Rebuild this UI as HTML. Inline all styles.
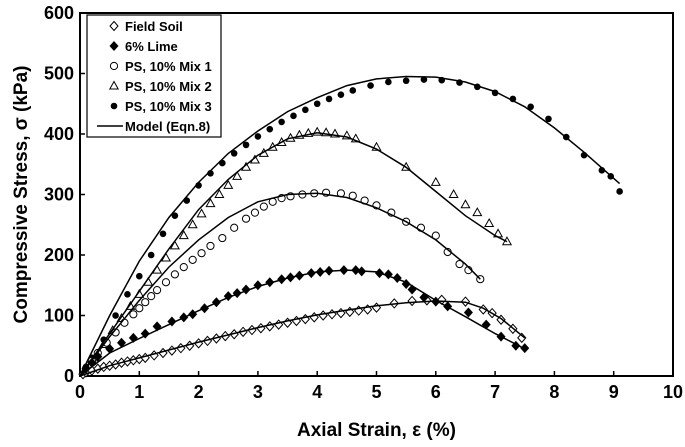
<!DOCTYPE html>
<html><head><meta charset="utf-8"><style>
html,body{margin:0;padding:0;background:#fff;}
svg{display:block;font-family:"Liberation Sans",sans-serif;}
</style></head><body>
<svg id="chart" width="685" height="447" viewBox="0 0 685 447">
<g id="plot"></g>
</svg>
<script>
const xTicks=[0,1,2,3,4,5,6,7,8,9,10];
const yTicks=[0,100,200,300,400,500,600];
// Field Soil
const fsX=[0.05,0.1,0.2,0.3,0.4,0.5,0.6,0.7,0.8,0.9,1.0,1.1,1.25,1.4,1.55,1.7,1.85,2.0,2.15,2.3,2.45,2.6,2.75,2.9,3.05,3.2,3.35,3.5,3.65,3.8,3.95,4.1,4.25,4.4,4.55,4.7,4.85,5.0,5.3,5.6,5.85,6.1,6.5,6.8,6.95,7.1,7.3,7.45];
const fsY=[3,6,9,12,15,17,19,22,24,26,28,30,34,38,42,46,50,54,58,62,66,69,73,76,79,82,85,88,91,94,97,100,102,104,106,108,110,113,120,124,125,126,123,110,104,93,78,63];
const fsMX=[0,0.5,1,1.5,2,2.5,3,3.5,4,4.5,5,5.5,6,6.5,6.8,7.1,7.5];
const fsMY=[0,17,30,43,56,68,80,91,101,109,116,121,124,122,112,95,63];
// 6% Lime
const liX=[0.1,0.2,0.3,0.5,0.7,0.9,1.1,1.3,1.55,1.75,1.9,2.1,2.3,2.5,2.65,2.8,3.0,3.2,3.4,3.55,3.7,3.9,4.05,4.2,4.45,4.65,4.75,5.05,5.2,5.35,5.5,5.6,5.8,6.0,6.2,6.55,6.85,7.1,7.35,7.5];
const liY=[12,22,32,45,55,63,70,82,90,97,102,112,122,132,137,143,150,155,160,163,166,170,172,174,175,175,173,170,168,162,152,143,130,123,115,105,85,65,50,46];
const liMX=[0,0.5,1,1.5,2,2.5,3,3.5,4,4.5,5,5.5,6,6.5,7,7.5];
const liMY=[0,38,62,85,108,130,148,162,172,175,172,155,125,98,70,45];
// Mix 1
const m1X=[0.1,0.2,0.3,0.45,0.6,0.75,0.9,1.0,1.1,1.2,1.3,1.45,1.6,1.75,1.9,2.05,2.2,2.4,2.6,2.8,2.95,3.1,3.25,3.4,3.55,3.75,3.95,4.15,4.4,4.6,4.8,5.0,5.25,5.5,5.75,6.0,6.2,6.4,6.55,6.75];
const m1Y=[12,25,38,55,72,88,102,112,122,132,142,155,168,180,192,203,215,228,245,260,270,280,288,294,297,300,302,303,302,298,290,282,270,255,245,232,205,185,175,160];
const m1MX=[0,0.5,1,1.5,2,2.5,3,3.5,4,4.5,5,5.5,6,6.5,6.75];
const m1MY=[0,65,125,180,225,262,288,300,302,295,278,255,225,185,160];
// Mix 2
const m2X=[0.1,0.25,0.4,0.55,0.7,0.85,1.0,1.15,1.3,1.45,1.6,1.75,1.9,2.05,2.2,2.35,2.5,2.65,2.8,2.95,3.1,3.25,3.4,3.55,3.7,3.85,4.0,4.15,4.3,4.5,4.65,5.0,5.5,6.0,6.3,6.5,6.7,6.9,7.05,7.2];
const m2Y=[10,30,52,75,95,115,135,155,175,195,215,232,250,268,285,300,315,330,345,357,368,378,386,393,398,401,403,402,400,397,392,378,345,320,300,283,270,252,235,222];
const m2MX=[0,0.5,1,1.5,2,2.5,3,3.5,4,4.5,5,5.5,6,6.5,7,7.2];
const m2MY=[0,70,140,210,275,325,365,392,402,395,375,345,305,265,232,222];
// Mix 3
const m3X=[0.1,0.2,0.4,0.6,0.8,1.0,1.2,1.4,1.6,1.8,2.0,2.2,2.4,2.6,2.8,3.0,3.2,3.4,3.6,3.8,4.0,4.2,4.4,4.6,4.9,5.2,5.5,5.8,6.1,6.4,6.7,7.0,7.3,7.6,7.9,8.2,8.5,8.8,8.95,9.1];
const m3Y=[15,30,60,100,135,165,200,235,265,290,315,335,352,368,382,396,408,420,430,440,450,458,465,472,480,486,488,490,489,485,478,468,458,445,425,395,365,340,330,305];
const m3MX=[0,0.5,1,1.5,2,2.5,3,3.5,4,4.5,5,5.5,6,6.5,7,7.5,8,8.5,9.1];
const m3MY=[0,100,190,262,320,368,405,437,460,480,491,495,494,486,470,445,410,370,318];

const L=80,R=673,T=13,B=376;
const sx=v=>L+(R-L)*v/10, sy=v=>B-(B-T)*v/600;
const NS='http://www.w3.org/2000/svg';
const g=document.getElementById('plot');
function mk(tag,attrs,parent){const e=document.createElementNS(NS,tag);for(const k in attrs)e.setAttribute(k,attrs[k]);(parent||g).appendChild(e);return e;}

// frame
const fr=mk('rect',{x:L,y:T,width:R-L,height:B-T,fill:'none',stroke:'#000','stroke-width':2});


xTicks.forEach(t=>{
  const ln=mk('line',{x1:sx(t),x2:sx(t),y1:B,y2:B-5,stroke:'#000','stroke-width':1.5});
  
  
  const tx=mk('text',{x:sx(t),y:B+22,'text-anchor':'middle','font-size':18,'font-weight':'bold'});
  tx.textContent=t;
  
  
});
yTicks.forEach(t=>{
  const ln=mk('line',{x1:L,x2:L+5,y1:sy(t),y2:sy(t),stroke:'#000','stroke-width':1.5});
  
  
  const tx=mk('text',{x:L-6,y:sy(t)+6,'text-anchor':'end','font-size':18,'font-weight':'bold'});
  tx.textContent=t;
  
  
});
const xt=mk('text',{x:(L+R)/2,y:436,'text-anchor':'middle','font-size':19,'font-weight':'bold'});
xt.textContent='Axial Strain, ε (%)';


const yt=mk('text',{x:0,y:0,'text-anchor':'middle','font-size':19,'font-weight':'bold',transform:'translate(27,'+((T+B)/2)+') rotate(-90)'});
yt.textContent='Compressive Stress, σ (kPa)';



function line(xs,ys,name){
  const d=xs.map((x,i)=>(i?'L':'M')+sx(x).toFixed(1)+' '+sy(ys[i]).toFixed(1)).join(' ');
  const p=mk('path',{d,fill:'none',stroke:'#000','stroke-width':1.5});
  
  
}
function marker(type,x,y,parent){
  let e;
  if(type==='dopen') e=mk('path',{d:`M${x} ${y-4.5}L${x+4} ${y}L${x} ${y+4.5}L${x-4} ${y}Z`,fill:'#fff',stroke:'#000','stroke-width':1},parent);
  else if(type==='dfill') e=mk('path',{d:`M${x} ${y-5}L${x+4.5} ${y}L${x} ${y+5}L${x-4.5} ${y}Z`,fill:'#000'},parent);
  else if(type==='copen') e=mk('circle',{cx:x,cy:y,r:3.6,fill:'#fff',stroke:'#000','stroke-width':1},parent);
  else if(type==='tri') e=mk('path',{d:`M${x} ${y-4.5}L${x+4.2} ${y+3}L${x-4.2} ${y+3}Z`,fill:'#fff',stroke:'#000','stroke-width':1},parent);
  else e=mk('circle',{cx:x,cy:y,r:3.3,fill:'#000'},parent);
  return e;
}
function pts(xs,ys,type,name){
  xs.forEach((x,i)=>{
    const m=marker(type,sx(x),sy(ys[i]));
    
    
  });
}
pts(m3X,m3Y,'cfill','mix3-point');
pts(m2X,m2Y,'tri','mix2-point');
pts(m1X,m1Y,'copen','mix1-point');
pts(fsX,fsY,'dopen','field-soil-point');
pts(liX,liY,'dfill','lime-point');
line(fsMX,fsMY,'model-field-soil');
line(liMX,liMY,'model-lime');
line(m1MX,m1MY,'model-mix1');
line(m2MX,m2MY,'model-mix2');
line(m3MX,m3MY,'model-mix3');

// legend
const lg=mk('g',{});


const lb=mk('rect',{x:87,y:15,width:134,height:122,fill:'#fff',stroke:'#000','stroke-width':1.2},lg);


const legNames=['Field Soil','6% Lime','PS, 10% Mix 1','PS, 10% Mix 2','PS, 10% Mix 3','Model (Eqn.8)'];
const legTypes=['dopen','dfill','copen','tri','cfill','line'];
legNames.forEach((n,i)=>{
  const y=26+i*20;
  if(legTypes[i]==='line'){
    const l=mk('line',{x1:97,x2:123,y1:y,y2:y,stroke:'#000','stroke-width':1.5},lg);
    
    
  } else {
    const m=marker(legTypes[i],114,y,lg);
    
    
  }
  const t=mk('text',{x:125,y:y+5,'font-size':13,'font-weight':'bold'},lg);
  t.textContent=n;
  
  
});
</script>
</body></html>
